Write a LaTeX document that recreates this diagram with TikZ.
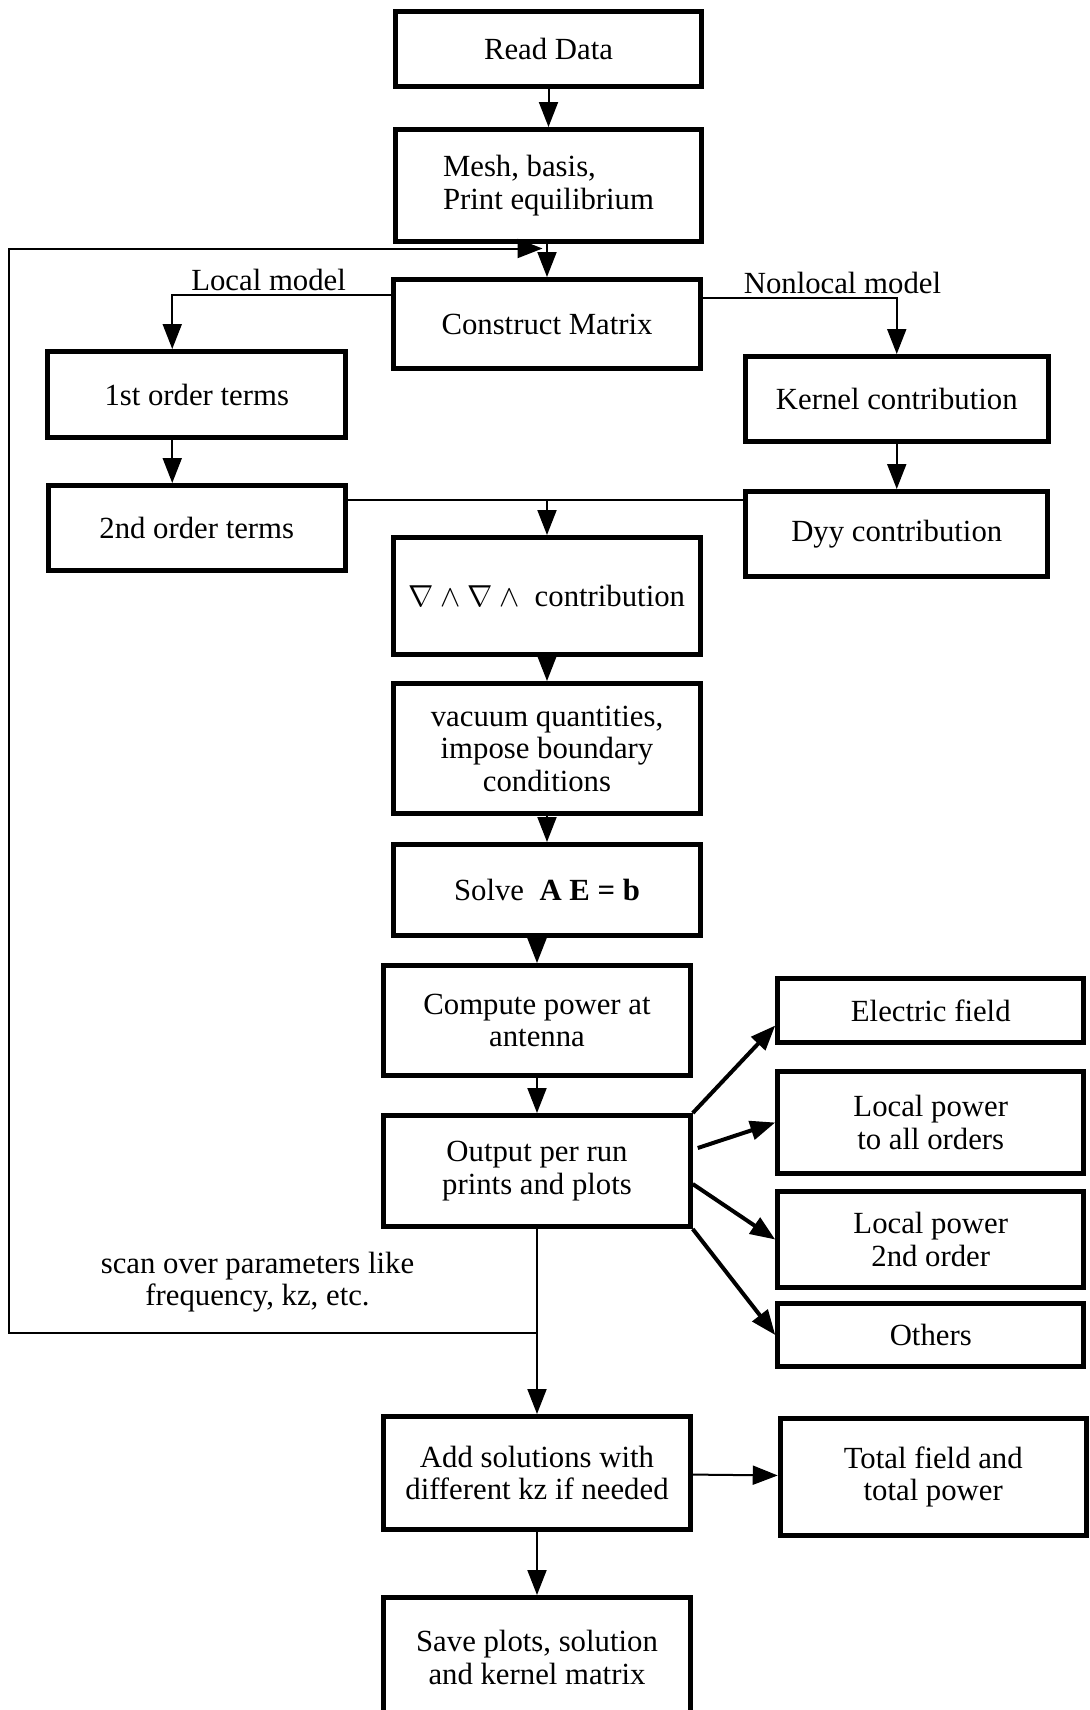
\documentclass[tikz,border=0pt]{standalone}
\usepackage{fontspec}
\setmainfont{Liberation Serif}
\usetikzlibrary{arrows.meta,positioning,calc}

\begin{document}
\begin{tikzpicture}[
        node distance=6mm and 8mm,
        box/.style={draw, line width=1mm, align=center, minimum width=61.3mm, font=\fontsize{17.5}{18.5}\selectfont, inner sep=2pt},
        sidebox/.style={box, minimum width=61.2mm},
        lbl/.style={font=\fontsize{17.5}{18.5}\selectfont, inner sep=2pt},
        conn/.style={line width=0.4mm},
        arr/.style={-{Triangle[length=5mm,width=3.8mm]}, line width=0.4mm},
        fatarr/.style={arr, line width=0.8mm}
    ]
        \useasboundingbox (0,0) rectangle (21.8,-34.2);

        \node[box, minimum height=15mm] (read) at (10.97,-0.98) {Read Data};
        \node[box, minimum height=22.4mm, below=7.6mm of read, align=left] (mesh) {Mesh, basis,\\Print equilibrium};
        \node[box, minimum height=17.8mm, below=6.6mm of mesh, xshift=-0.3mm] (construct) {Construct Matrix};
        \node[box, minimum width=59.6mm, minimum height=17.2mm, left=8.6mm of construct, yshift=-14.1mm] (first) {1st order terms};
        \node[box, minimum width=59.4mm, minimum height=17mm, below=8.6mm of first] (second) {2nd order terms};
        \node[box, minimum width=60.6mm, minimum height=17mm, right=8mm of construct, yshift=-15mm] (kernel) {Kernel contribution};
        \node[box, minimum width=60.4mm, minimum height=17mm, below=9mm of kernel] (dyy) {Dyy contribution};
        \node[box, minimum height=23.4mm, below=32.8mm of construct] (curl) {$\nabla \wedge \nabla \wedge{}$ contribution};
        \node[box, minimum height=26mm, below=4.8mm of curl] (vacuum) {vacuum quantities,\\impose boundary\\conditions};
        \node[box, minimum height=18.2mm, below=5.2mm of vacuum] (solve) {Solve \ \textbf{A E = b}};
        \node[box, minimum height=22mm, below=5mm of solve, xshift=-2mm] (compute) {Compute power at\\antenna};
        \node[box, minimum height=22.2mm, below=7mm of compute] (output) {Output per run\\prints and plots};
        \node[box, minimum height=22.6mm, below=37mm of output] (addsol) {Add solutions with\\different kz if needed};
        \node[box, minimum height=24mm, below=12.6mm of addsol] (save) {Save plots, solution\\and kernel matrix};

        \node[sidebox, minimum height=12.8mm, right=16.5mm of compute, yshift=2mm] (efield) {Electric field};
        \node[sidebox, minimum height=20.4mm, below=4.8mm of efield] (lpall) {Local power\\to all orders};
        \node[sidebox, minimum height=19.2mm, below=2.6mm of lpall] (lp2) {Local power\\2nd order};
        \node[sidebox, minimum height=12.6mm, below=2.2mm of lp2] (others) {Others};
        \node[sidebox, minimum height=23.4mm, right=17mm of addsol, yshift=-0.8mm] (total) {Total field and\\total power};

        \draw[arr] (read) -- (mesh);
        \draw[arr] (mesh.south -| construct.north) -- (construct);
        \draw[arr] ([yshift=5.8mm]construct.west) -| ([xshift=-4.9mm]first.north) node[lbl, above, pos=0.28] {Local model};
        \draw[arr] ([yshift=5.2mm]construct.east) -| (kernel.north) node[lbl, above, pos=0.36] {Nonlocal model};
        \draw[arr] ([xshift=-4.9mm]first.south) -- ([xshift=-4.9mm]second.north);
        \draw[arr] (kernel) -- (dyy);

        \coordinate (secondtap) at ([yshift=5.6mm]second.east);
        \coordinate (merge) at (secondtap -| curl.north);
        \draw[conn] (secondtap) -- (secondtap -| dyy.west);
        \draw[arr] (merge) -- (curl);

        \draw[arr] (curl) -- (vacuum);
        \draw[arr] (vacuum) -- (solve);
        \draw[arr] (solve.south -| compute.north) -- (compute);
        \draw[arr] (compute) -- (output);

        \draw[fatarr] (output.north east) -- ([yshift=-3mm]efield.west);
        \draw[fatarr] ([shift={(1mm,4.6mm)}]output.east) -- (lpall.west);
        \draw[fatarr] ([yshift=-2.6mm]output.east) -- (lp2.west);
        \draw[fatarr] (output.south east) -- (others.west);

        \draw[arr] (output.south) -- (output.south |- addsol.north);
        \coordinate (scanjoin) at ($(output.south)+(0,-20.8mm)$);
        \coordinate (loopleft) at (0.18,0);
        \coordinate (looptip) at ($(mesh.south)+(-0.12,-0.09)$);
        \draw[arr] (scanjoin) -- (scanjoin -| loopleft) |- (looptip);
        \node[lbl, align=center] (scanlbl) at ($(scanjoin)+(-5.59,1.02)$) {scan over parameters like\\frequency, kz, etc.};

        \draw[arr] (addsol) -- (total);
        \draw[arr] (addsol) -- (save);
    \end{tikzpicture}
\end{document}
